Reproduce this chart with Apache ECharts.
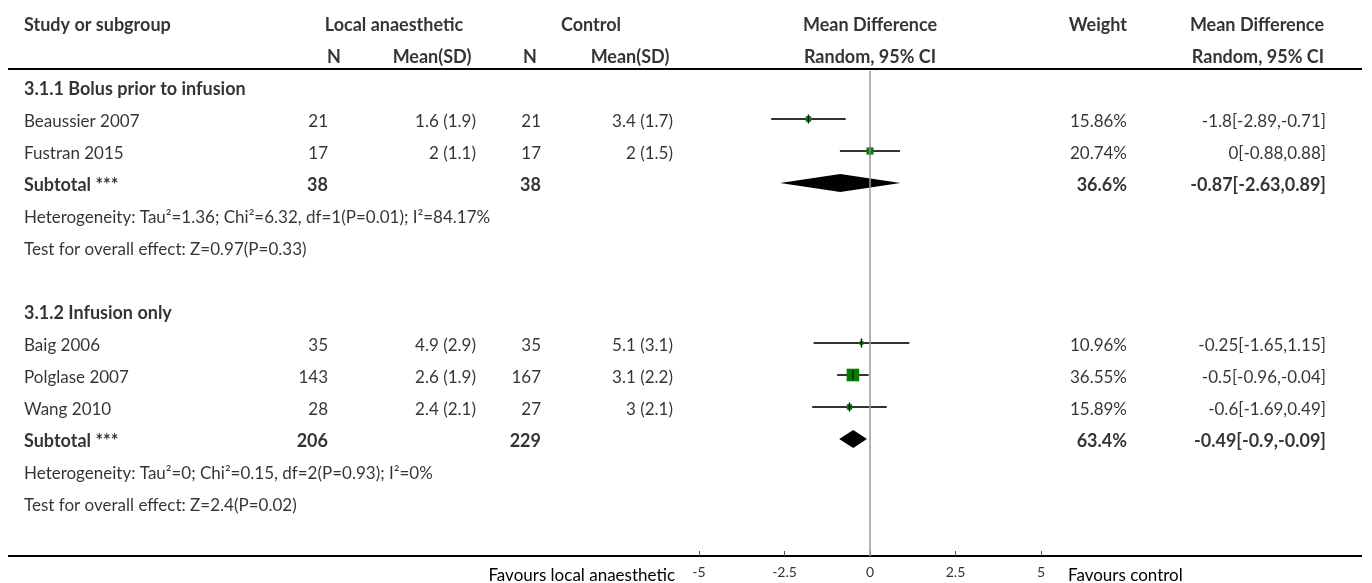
<!DOCTYPE html>
<html><head><meta charset="utf-8">
<script src="https://cdn.jsdelivr.net/npm/echarts@6/dist/echarts.min.js"></script>
<style>html,body{margin:0;padding:0;background:#fff}#c{width:1372px;height:583px}</style>
</head><body><div id="c"></div>
<script>
// ---------- data ----------
const groupNames = ['3.1.1 Bolus prior to infusion', '3.1.2 Infusion only'];
const studies   = ['Beaussier 2007', 'Fustran 2015', 'Baig 2006', 'Polglase 2007', 'Wang 2010'];
const studyGroup = [0, 0, 1, 1, 1];
const nLocal    = [21, 17, 35, 143, 28];
const meanLocal = [1.6, 2, 4.9, 2.6, 2.4];
const sdLocal   = [1.9, 1.1, 2.9, 1.9, 2.1];
const nCtrl     = [21, 17, 35, 167, 27];
const meanCtrl  = [3.4, 2, 5.1, 3.1, 3];
const sdCtrl    = [1.7, 1.5, 3.1, 2.2, 2.1];
const md        = [-1.8, 0, -0.25, -0.5, -0.6];
const ciLo      = [-2.89, -0.88, -1.65, -0.96, -1.69];
const ciHi      = [-0.71, 0.88, 1.15, -0.04, 0.49];
const weight    = [15.86, 20.74, 10.96, 36.55, 15.89];
const subNLocal = [38, 206];
const subNCtrl  = [38, 229];
const subMd     = [-0.87, -0.49];
const subLo     = [-2.63, -0.9];
const subHi     = [0.89, -0.09];
const subWeight = [36.6, 63.4];
const heterogeneity = ['Heterogeneity: Tau\u00b2=1.36; Chi\u00b2=6.32, df=1(P=0.01); I\u00b2=84.17%',
                       'Heterogeneity: Tau\u00b2=0; Chi\u00b2=0.15, df=2(P=0.93); I\u00b2=0%'];
const overall = ['Test for overall effect: Z=0.97(P=0.33)', 'Test for overall effect: Z=2.4(P=0.02)'];
const xTicks = [-5, -2.5, 0, 2.5, 5];
const favoursLeft = 'Favours local anaesthetic';
const favoursRight = 'Favours control';

// ---------- layout ----------
const FONT = 'Lato';
const FS = 17;
const FSB = 18;
const COL = {study: 24, nL: 328, mL: 476, nC: 541, mC: 673, w: 1127, ci: 1326};
const HDR = {local: 394, n1: 334, m1: 432, ctrl: 591, n2: 530, m2: 630, md: 870, w: 1127, ci: 1324};

const texts = [];
function T(x, row, str, align, bold) {
  texts.push({value: [x, row], label: {show: true, position: 'inside', formatter: str,
    align: align, verticalAlign: 'middle', fontFamily: FONT, fontSize: bold ? FSB : FS,
    fontWeight: bold ? 'bold' : 'normal', color: '#000'}});
}
// headers
T(COL.study, -2, 'Study or subgroup', 'left', true);
T(HDR.local, -2, 'Local anaesthetic', 'center', true);
T(HDR.ctrl, -2, 'Control', 'center', true);
T(HDR.md, -2, 'Mean Difference', 'center', true);
T(HDR.w, -2, 'Weight', 'right', true);
T(HDR.ci, -2, 'Mean Difference', 'right', true);
T(HDR.n1, -1, 'N', 'center', true);
T(HDR.m1, -1, 'Mean(SD)', 'center', true);
T(HDR.n2, -1, 'N', 'center', true);
T(HDR.m2, -1, 'Mean(SD)', 'center', true);
T(HDR.md, -1, 'Random, 95% CI', 'center', true);
T(HDR.ci, -1, 'Random, 95% CI', 'right', true);

const studyPts = [], subPts = [];
let r = 0;
groupNames.forEach((g, gi) => {
  T(COL.study, r, g, 'left', true); r++;
  studies.forEach((s, i) => {
    if (studyGroup[i] !== gi) return;
    T(COL.study, r, s, 'left', false);
    T(COL.nL, r, String(nLocal[i]), 'right', false);
    T(COL.mL, r, meanLocal[i] + ' (' + sdLocal[i] + ')', 'right', false);
    T(COL.nC, r, String(nCtrl[i]), 'right', false);
    T(COL.mC, r, meanCtrl[i] + ' (' + sdCtrl[i] + ')', 'right', false);
    T(COL.w, r, weight[i] + '%', 'right', false);
    T(COL.ci, r, md[i] + '[' + ciLo[i] + ',' + ciHi[i] + ']', 'right', false);
    studyPts.push({row: r, i: i});
    r++;
  });
  T(COL.study, r, 'Subtotal ***', 'left', true);
  T(COL.nL, r, String(subNLocal[gi]), 'right', true);
  T(COL.nC, r, String(subNCtrl[gi]), 'right', true);
  T(COL.w, r, subWeight[gi] + '%', 'right', true);
  T(COL.ci, r, subMd[gi] + '[' + subLo[gi] + ',' + subHi[gi] + ']', 'right', true);
  subPts.push({row: r, gi: gi});
  r++;
  T(COL.study, r, heterogeneity[gi], 'left', false); r++;
  T(COL.study, r, overall[gi], 'left', false); r++;
  r++; // blank line
});

const ROW_MAX = 14.65625;
const chart = echarts.init(document.getElementById('c'), null, {renderer: 'canvas'});
chart.setOption({
  animation: false,
  backgroundColor: '#fff',
  grid: [
    {left: 699, width: 342, top: 71, height: 485},
    {left: 0, width: 1372, top: 9.5, height: 548.5}
  ],
  xAxis: [
    {gridIndex: 0, type: 'value', min: xTicks[0], max: xTicks[xTicks.length - 1], interval: 2.5,
     position: 'bottom',
     axisLine: {show: true, onZero: false, lineStyle: {color: '#000', width: 2}},
     axisTick: {show: true, inside: true, length: 5, lineStyle: {color: '#555'}},
     axisLabel: {fontFamily: FONT, fontSize: 14, color: '#333', margin: 9},
     splitLine: {show: false}},
    {gridIndex: 1, type: 'value', min: 0, max: 1372, show: false}
  ],
  yAxis: [
    {gridIndex: 0, type: 'value', min: -0.5, max: ROW_MAX, inverse: true, show: false},
    {gridIndex: 1, type: 'value', min: -2.5, max: ROW_MAX, inverse: true, show: false}
  ],
  graphic: [
    {type: 'line', shape: {x1: 8, y1: 69, x2: 1362, y2: 69}, style: {stroke: '#000', lineWidth: 2}},
    {type: 'line', shape: {x1: 8, y1: 556, x2: 1362, y2: 556}, style: {stroke: '#000', lineWidth: 2}},
    {type: 'text', x: 675, y: 576, style: {text: favoursLeft, font: FS + 'px ' + FONT, fill: '#000', textAlign: 'right', textVerticalAlign: 'middle'}},
    {type: 'text', x: 1068, y: 576, style: {text: favoursRight, font: FS + 'px ' + FONT, fill: '#000', textAlign: 'left', textVerticalAlign: 'middle'}}
  ],
  series: [
    {type: 'scatter', xAxisIndex: 1, yAxisIndex: 1, symbolSize: 0, data: texts, silent: true, clip: false},
    {type: 'custom', xAxisIndex: 0, yAxisIndex: 0, silent: true,
     data: studyPts.map(p => [ciLo[p.i], ciHi[p.i], p.row]),
     renderItem: (params, api) => {
       const a = api.coord([api.value(0), api.value(2)]);
       const b = api.coord([api.value(1), api.value(2)]);
       return {type: 'line', shape: {x1: a[0], y1: a[1], x2: b[0], y2: b[1]}, style: {stroke: '#333', lineWidth: 2}};
     },
     markLine: {silent: true, symbol: 'none', label: {show: false},
       lineStyle: {color: '#9a9a9a', type: 'solid', width: 1.5}, data: [{xAxis: 0}]}},
    {type: 'scatter', xAxisIndex: 0, yAxisIndex: 0, silent: true, symbol: 'rect',
     data: studyPts.map(p => ({value: [md[p.i], p.row], symbolSize: weight[p.i] / 2.9})),
     itemStyle: {color: '#008000', opacity: 1}},
    {type: 'scatter', xAxisIndex: 0, yAxisIndex: 0, silent: true, symbol: 'rect', symbolSize: [1.5, 9],
     data: studyPts.map(p => [md[p.i], p.row]), itemStyle: {color: '#111', opacity: 1}},
    {type: 'custom', xAxisIndex: 0, yAxisIndex: 0, silent: true,
     data: subPts.map(p => [subLo[p.gi], subMd[p.gi], subHi[p.gi], p.row]),
     renderItem: (params, api) => {
       const l = api.coord([api.value(0), api.value(3)]);
       const m = api.coord([api.value(1), api.value(3)]);
       const h = api.coord([api.value(2), api.value(3)]);
       return {type: 'polygon', shape: {points: [[l[0], l[1]], [m[0], m[1] - 9], [h[0], h[1]], [m[0], m[1] + 9]]},
         style: {fill: '#000'}};
     }}
  ]
});
</script></body></html>
